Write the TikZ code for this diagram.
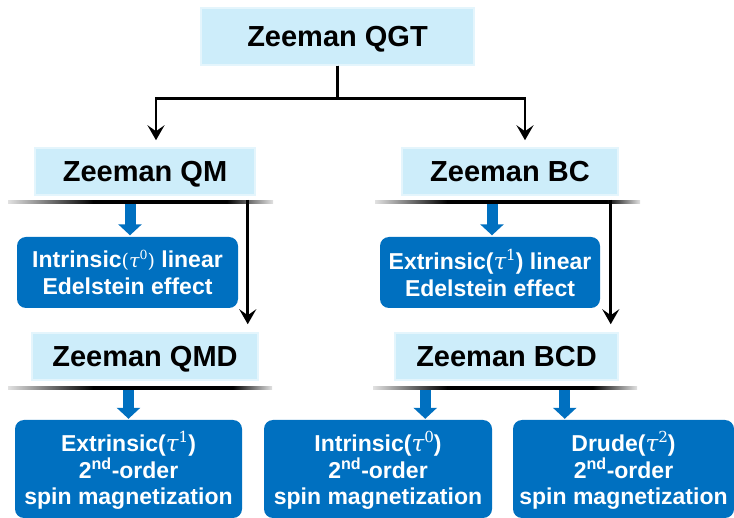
\documentclass[tikz,border=0pt]{standalone}
\usepackage{fontspec}
\setmainfont{Liberation Sans}
\newfontfamily\tauserif{DejaVu Serif}
\usetikzlibrary{arrows.meta}

\definecolor{headcyan}{RGB}{205,237,250}
\definecolor{effblue}{RGB}{0,112,192}
\definecolor{fadeend}{RGB}{225,225,225}

% relaxation-time power: italic tau with an upright exponent
\newcommand\taupow[1]{{\tauserif\mdseries\itshape τ}\raisebox{0.4em}{\scalebox{0.66}{\tauserif\mdseries #1}}}
% extra head room on the first line of a three-line box
\newcommand\firstline{\rule{0pt}{23pt}}

\tikzset{
  headbox/.style={fill=headcyan, draw=headcyan!55, line width=1.5pt, inner sep=0pt,
    text depth=0pt, font=\fontsize{29}{34}\selectfont\bfseries, text=black},
  effbox/.style={fill=effblue, rounded corners=9pt, inner sep=0pt, text=white,
    align=center, font=\fontsize{23}{26.8}\selectfont\bfseries},
  conn/.style={line width=2.6pt, -{Stealth[length=15pt,width=17pt,inset=6pt]}},
  feed/.style={line width=11pt, effblue, -{Triangle[length=11pt,width=23pt]}},
  barnode/.style={inner sep=0pt, minimum height=3.6pt, anchor=west},
}

% horizontal rule that fades out at both ends
% #1 name, #2 left end, #3 black from, #4 black to, #5 right end, #6 y
\newcommand\fadebar[6]{%
  \fill[left color=fadeend, right color=black] (#2,#6-1.8) rectangle (#3+0.3,#6+1.8);
  \fill[black] (#3,#6-1.8) rectangle (#4,#6+1.8);
  \fill[left color=black, right color=fadeend] (#4-0.3,#6-1.8) rectangle (#5,#6+1.8);
  \node[barnode, minimum width={#5-#2}] (#1) at (#2,#6) {};
}

\begin{document}
\begin{tikzpicture}[x=1pt, y=-1pt]
  \useasboundingbox (0,0) rectangle (734,518);
  \clip (0,0) rectangle (734,518);
  \fill[white] (0,0) rectangle (734,518);

  % field-like quantities
  \node[headbox, minimum width=273, minimum height=57] (qgt) at (337.5,36.5) {Zeeman QGT};
  \node[headbox, minimum width=220, minimum height=47] (qm)  at (145,171.5) {Zeeman QM};
  \node[headbox, minimum width=216, minimum height=47] (bc)  at (510,171.5) {Zeeman BC};
  \node[headbox, minimum width=226, minimum height=47] (qmd) at (145,356.5) {Zeeman QMD};
  \node[headbox, minimum width=223, minimum height=47] (bcd) at (506.5,356.5) {Zeeman BCD};

  % responses
  \node[effbox, minimum width=221, minimum height=71] (lee1) at (127.5,272.5)
    {Intrinsic{\fontsize{19}{19}\selectfont\tauserif\mdseries(\taupow{0})} linear\\Edelstein effect};
  \node[effbox, minimum width=220, minimum height=71] (lee2) at (490,272.5)
    {Extrinsic(\taupow{1}) linear\\Edelstein effect};
  \node[effbox, minimum width=227, minimum height=98] (sm1) at (128.5,469)
    {\firstline Extrinsic(\taupow{1})\\2\textsuperscript{nd}-order\\spin magnetization};
  \node[effbox, minimum width=228, minimum height=98] (sm2) at (378,469)
    {\firstline Intrinsic(\taupow{0})\\2\textsuperscript{nd}-order\\spin magnetization};
  \node[effbox, minimum width=221, minimum height=98] (sm3) at (623.5,469)
    {\firstline Drude(\taupow{2})\\2\textsuperscript{nd}-order\\spin magnetization};

  % rules under the middle boxes
  \fadebar{barqm}{8}{93}{227}{273}{202}
  \fadebar{barbc}{375}{447}{607}{640}{202}
  \fadebar{barqmd}{8}{93}{233}{272}{388}
  \fadebar{barbcd}{373}{447}{593}{637}{388}

  % splitting of the QGT
  \path (qgt.south) ++(0,33) coordinate (split);
  \draw[conn, shorten >=7pt] (qgt.south) -- (split) -| ([xshift=11pt]qm.north);
  \draw[conn, shorten >=7pt] (qgt.south) -- (split) -| ([xshift=15pt]bc.north);

  % guide columns for the vertical connectors
  \coordinate (colqm)  at ([xshift=-8pt]qm.east);
  \coordinate (colbc)  at ([xshift=-8pt]bc.east);
  \coordinate (collee1) at ([xshift=2.5pt]lee1.north);
  \coordinate (collee2) at ([xshift=2pt]lee2.north);
  \coordinate (colsm2) at ([xshift=31pt]bcd.west);
  \coordinate (colsm3) at ([xshift=-54pt]bcd.east);

  % dipoles
  \draw[conn, shorten >=8pt] (barqm.north -| colqm) -- (qmd.north -| colqm);
  \draw[conn, shorten >=8pt] (barbc.north -| colbc) -- (bcd.north -| colbc);

  % responses
  \draw[feed, shorten >=1.5pt] (barqm.south -| collee1) -- (lee1.north -| collee1);
  \draw[feed, shorten >=1.5pt] (barbc.south -| collee2) -- (lee2.north -| collee2);
  \draw[feed, shorten >=1pt] (barqmd.south -| sm1.north) -- (sm1.north);
  \draw[feed, shorten >=1pt] (barbcd.south -| colsm2) -- (sm2.north -| colsm2);
  \draw[feed, shorten >=1pt] (barbcd.south -| colsm3) -- (sm3.north -| colsm3);
\end{tikzpicture}
\end{document}
